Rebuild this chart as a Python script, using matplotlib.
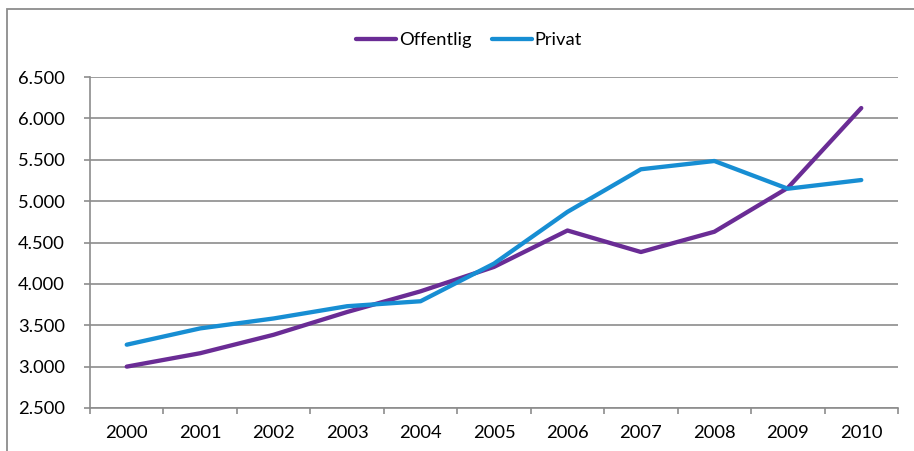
import matplotlib
matplotlib.use("Agg")
import matplotlib.pyplot as plt
from matplotlib.patches import Rectangle
from matplotlib.ticker import FuncFormatter, MultipleLocator
import numpy as np

years = ["2000", "2001", "2002", "2003", "2004", "2005",
         "2006", "2007", "2008", "2009", "2010"]
offentlig = [3000, 3162, 3385, 3660, 3910, 4205, 4645, 4385, 4630, 5160, 6125]
privat = [3265, 3462, 3582, 3730, 3790, 4245, 4870, 5385, 5485, 5150, 5255]

purple = "#6A2C95"
blue = "#178ED3"
grey = "#8C8C8C"

plt.rcParams["font.family"] = ["Lato", "DejaVu Sans"]
plt.rcParams["font.size"] = 13.2

W, H = 914, 451
fig = plt.figure(figsize=(W / 100, H / 100), dpi=100)
ax = fig.add_axes([90 / W, 1 - 408 / H, (898 - 90) / W, (408 - 77) / H])

# outer chart frame (runs past the right and bottom edges)
fig.patches.append(Rectangle((7 / W, -0.1), 1.2, 1 - 9 / H + 0.1,
                             transform=fig.transFigure, fill=False,
                             edgecolor=grey, linewidth=1.3))

x = np.arange(len(years))
ax.plot(x, offentlig, color=purple, lw=3.1, label="Offentlig",
        solid_capstyle="round", solid_joinstyle="round")
ax.plot(x, privat, color=blue, lw=3.1, label="Privat",
        solid_capstyle="round", solid_joinstyle="round")

ax.set_xlim(-0.5, len(years) - 0.5)
ax.set_ylim(2500, 6500)
ax.yaxis.set_major_locator(MultipleLocator(500))
ax.yaxis.set_major_formatter(
    FuncFormatter(lambda v, p: f"{int(v):,}".replace(",", ".")))

ax.set_xticks(x)
ax.set_xticklabels(years)
ax.set_xticks(np.arange(-0.5, len(years)), minor=True)
ax.tick_params(axis="x", which="major", length=0, pad=12.5)
ax.tick_params(axis="x", which="minor", length=4, width=1.2, color=grey,
               direction="out")
ax.tick_params(axis="y", which="major", length=4, width=1.2, color=grey,
               pad=14)

ax.grid(axis="y", color=grey, linewidth=1.2)
ax.set_axisbelow(True)
for s in ("top", "right"):
    ax.spines[s].set_visible(False)
for s in ("left", "bottom"):
    ax.spines[s].set_color(grey)
    ax.spines[s].set_linewidth(1.2)

fig.legend(loc="center", bbox_to_anchor=(469 / W, 1 - 40 / H), ncol=2,
           frameon=False, handlelength=2.2, handletextpad=0.15,
           columnspacing=1.1, fontsize=13.2)

fig.savefig("out.png", dpi=100)
